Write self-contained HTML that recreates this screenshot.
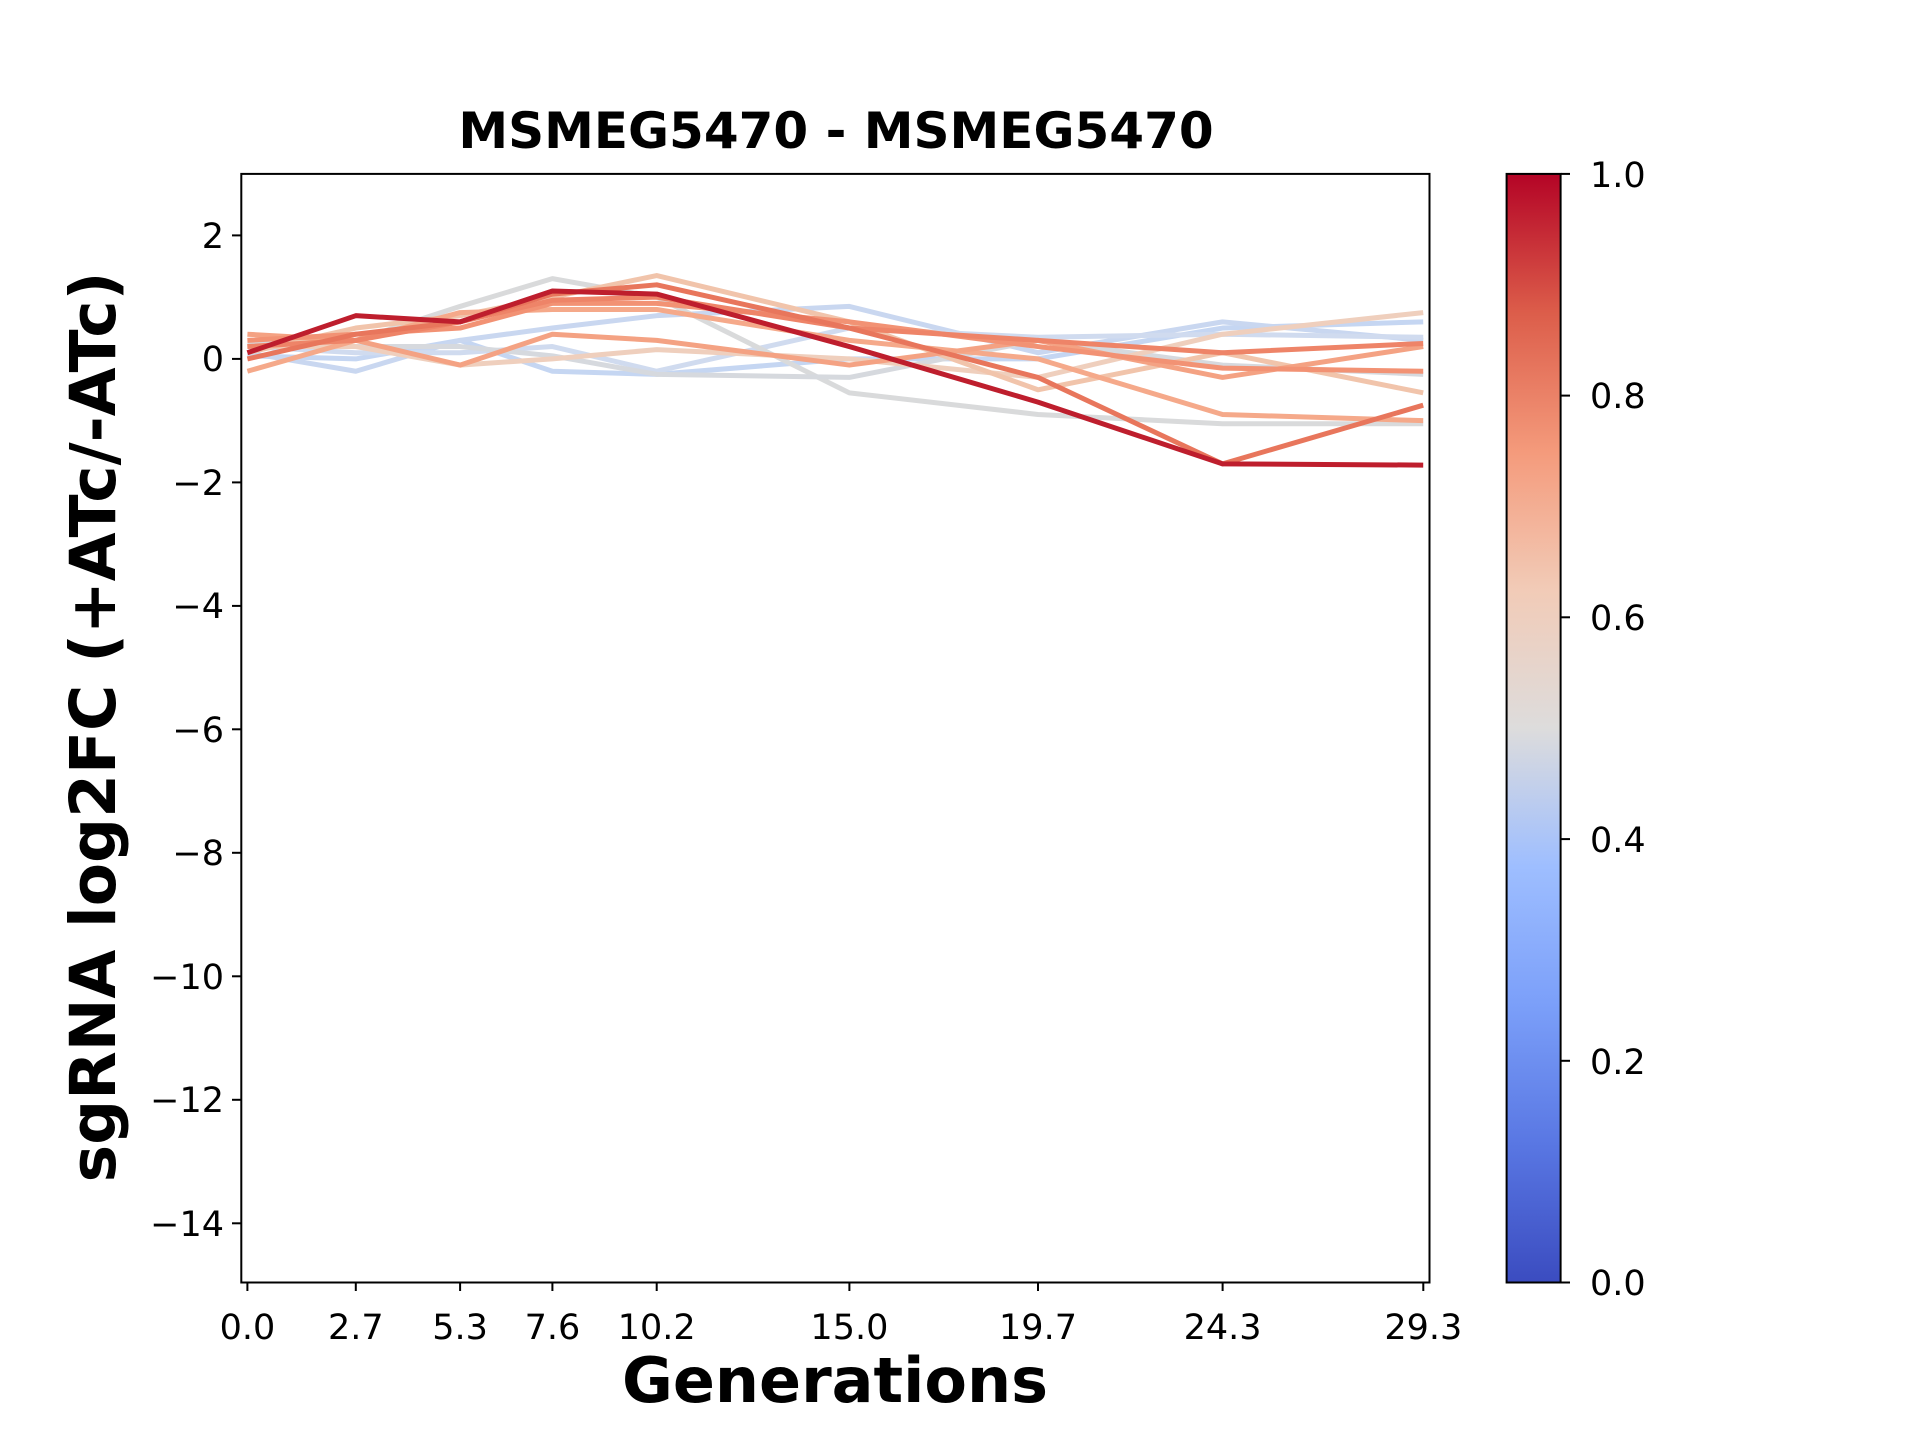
<!DOCTYPE html>
<html><head><meta charset="utf-8"><style>html,body{margin:0;padding:0;background:#fff}svg{display:block}</style></head>
<body>
<svg width="1920" height="1440" viewBox="0 0 1920 1440" xmlns="http://www.w3.org/2000/svg" font-family="DejaVu Sans, Liberation Sans, sans-serif">
<defs>
<linearGradient id="cw" x1="0" y1="1" x2="0" y2="0">
<stop offset="0" stop-color="#3b4cc0"/>
<stop offset="0.125" stop-color="#5977e3"/>
<stop offset="0.25" stop-color="#7b9ff9"/>
<stop offset="0.375" stop-color="#9ebeff"/>
<stop offset="0.5" stop-color="#dddcdc"/>
<stop offset="0.625" stop-color="#f2cbb7"/>
<stop offset="0.75" stop-color="#f49a7b"/>
<stop offset="0.875" stop-color="#dc5d4a"/>
<stop offset="1" stop-color="#b40426"/>
</linearGradient>
<clipPath id="ax"><rect x="241" y="174" width="1188" height="1108"/></clipPath>
</defs>
<text x="836" y="148" text-anchor="middle" font-size="50" font-weight="bold">MSMEG5470 - MSMEG5470</text>
<g clip-path="url(#ax)" fill="none" stroke-width="5" stroke-linejoin="round">
<g transform="matrix(40.13,0,0,-61.74,247.4,358.9)">
<polyline vector-effect="non-scaling-stroke" stroke="#c5d6f2" points="0,0.05 2.7,0 5.3,0.3 7.6,-0.2 10.2,-0.25 15,0 19.7,0 24.3,0.5 29.3,0.6"/>
<polyline vector-effect="non-scaling-stroke" stroke="#c9d7f0" points="0,0.1 2.7,-0.2 5.3,0.3 7.6,0.5 10.2,0.7 15,0.85 19.7,0.1 24.3,0.6 29.3,0.3"/>
<polyline vector-effect="non-scaling-stroke" stroke="#d0dbef" points="0,0.2 2.7,0.1 5.3,0.1 7.6,0.2 10.2,-0.2 15,0.5 19.7,0.35 24.3,0.4 29.3,0.35"/>
<polyline vector-effect="non-scaling-stroke" stroke="#d9dadb" points="0,0.2 2.7,0.3 5.3,0.85 7.6,1.3 10.2,1.0 15,-0.55 19.7,-0.9 24.3,-1.05 29.3,-1.05"/>
<polyline vector-effect="non-scaling-stroke" stroke="#d6d9de" points="0,0.25 2.7,0.2 5.3,0.2 7.6,0.05 10.2,-0.25 15,-0.3 19.7,0.3 24.3,-0.1 29.3,-0.25"/>
<polyline vector-effect="non-scaling-stroke" stroke="#efcfbd" points="0,0.2 2.7,0.2 5.3,-0.1 7.6,0 10.2,0.15 15,0 19.7,-0.3 24.3,0.4 29.3,0.75"/>
<polyline vector-effect="non-scaling-stroke" stroke="#f1c4ab" points="0,0.1 2.7,0.5 5.3,0.7 7.6,1.0 10.2,1.35 15,0.6 19.7,-0.5 24.3,0.1 29.3,-0.55"/>
<polyline vector-effect="non-scaling-stroke" stroke="#f5a98a" points="0,-0.2 2.7,0.3 5.3,0.75 7.6,0.8 10.2,0.8 15,0.3 19.7,0 24.3,-0.9 29.3,-1.0"/>
<polyline vector-effect="non-scaling-stroke" stroke="#f4a283" points="0,0.4 2.7,0.3 5.3,-0.1 7.6,0.4 10.2,0.3 15,-0.1 19.7,0.3 24.3,-0.3 29.3,0.2"/>
<polyline vector-effect="non-scaling-stroke" stroke="#f29274" points="0,0.3 2.7,0.4 5.3,0.5 7.6,0.9 10.2,0.9 15,0.6 19.7,0.2 24.3,-0.15 29.3,-0.2"/>
<polyline vector-effect="non-scaling-stroke" stroke="#ee8468" points="0,0.2 2.7,0.3 5.3,0.6 7.6,0.95 10.2,1.0 15,0.5 19.7,0.3 24.3,0.1 29.3,0.25"/>
<polyline vector-effect="non-scaling-stroke" stroke="#e8765c" points="0,0 2.7,0.4 5.3,0.6 7.6,1.05 10.2,1.2 15,0.5 19.7,-0.3 24.3,-1.7 29.3,-0.75"/>
<polyline vector-effect="non-scaling-stroke" stroke="#be1e2d" points="0,0.1 2.7,0.7 5.3,0.6 7.6,1.1 10.2,1.05 15,0.2 19.7,-0.7 24.3,-1.7 29.3,-1.72"/>
</g></g>
<rect x="241.3" y="173.9" width="1188.2" height="1108.6" fill="none" stroke="#000" stroke-width="2"/>
<g stroke="#000" stroke-width="2">
<line x1="232" x2="241" y1="235.4" y2="235.4"/><line x1="232" x2="241" y1="358.9" y2="358.9"/><line x1="232" x2="241" y1="482.4" y2="482.4"/><line x1="232" x2="241" y1="605.9" y2="605.9"/><line x1="232" x2="241" y1="729.3" y2="729.3"/><line x1="232" x2="241" y1="852.8" y2="852.8"/><line x1="232" x2="241" y1="976.3" y2="976.3"/><line x1="232" x2="241" y1="1099.8" y2="1099.8"/><line x1="232" x2="241" y1="1223.3" y2="1223.3"/>
<line x1="247.4" x2="247.4" y1="1282" y2="1291"/><line x1="355.8" x2="355.8" y1="1282" y2="1291"/><line x1="460.1" x2="460.1" y1="1282" y2="1291"/><line x1="552.4" x2="552.4" y1="1282" y2="1291"/><line x1="656.7" x2="656.7" y1="1282" y2="1291"/><line x1="849.4" x2="849.4" y1="1282" y2="1291"/><line x1="1038" x2="1038" y1="1282" y2="1291"/><line x1="1222.6" x2="1222.6" y1="1282" y2="1291"/><line x1="1423.3" x2="1423.3" y1="1282" y2="1291"/>
</g>
<g font-size="35" text-anchor="end">
<text x="224" y="248">2</text><text x="224" y="371">0</text><text x="224" y="495">−2</text><text x="224" y="618">−4</text><text x="224" y="742">−6</text><text x="224" y="865">−8</text><text x="224" y="989">−10</text><text x="224" y="1112">−12</text><text x="224" y="1236">−14</text>
</g>
<g font-size="35" text-anchor="middle">
<text x="247.4" y="1339">0.0</text><text x="355.8" y="1339">2.7</text><text x="460.1" y="1339">5.3</text><text x="552.4" y="1339">7.6</text><text x="656.7" y="1339">10.2</text><text x="849.4" y="1339">15.0</text><text x="1038" y="1339">19.7</text><text x="1222.6" y="1339">24.3</text><text x="1423.3" y="1339">29.3</text>
</g>
<text x="835" y="1402" text-anchor="middle" font-size="62" font-weight="bold">Generations</text>
<text transform="translate(115,727) rotate(-90)" text-anchor="middle" font-size="63" font-weight="bold">sgRNA log2FC (+ATc/-ATc)</text>
<rect x="1506.6" y="173.9" width="54" height="1108.6" fill="url(#cw)" stroke="#000" stroke-width="2"/>
<g stroke="#000" stroke-width="2">
<line x1="1561" x2="1570" y1="173.9" y2="173.9"/><line x1="1561" x2="1570" y1="395.6" y2="395.6"/><line x1="1561" x2="1570" y1="617.3" y2="617.3"/><line x1="1561" x2="1570" y1="839.1" y2="839.1"/><line x1="1561" x2="1570" y1="1060.8" y2="1060.8"/><line x1="1561" x2="1570" y1="1282.5" y2="1282.5"/>
</g>
<g font-size="35">
<text x="1590" y="187">1.0</text><text x="1590" y="408">0.8</text><text x="1590" y="630">0.6</text><text x="1590" y="852">0.4</text><text x="1590" y="1074">0.2</text><text x="1590" y="1295">0.0</text>
</g>
</svg>
</body></html>
